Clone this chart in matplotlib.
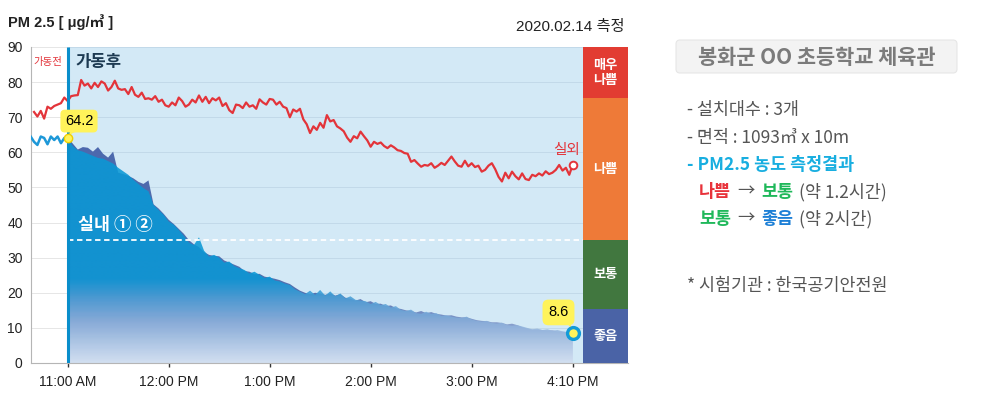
import numpy as np
import matplotlib
matplotlib.use("Agg")
import matplotlib.pyplot as plt
from matplotlib.colors import LinearSegmentedColormap
from matplotlib.patches import Polygon, FancyBboxPatch, Rectangle

KR = ["Noto Sans CJK KR", "DejaVu Sans"]
NUM = ["Liberation Sans", "Noto Sans CJK KR", "DejaVu Sans"]
plt.rcParams["font.family"] = KR

# x values are minutes after 11:00 AM (device switched on at 0)
TICK_MIN = [0, 60, 120, 180, 240, 300]
TICK_LABELS = ["11:00 AM", "12:00 PM", "1:00 PM", "2:00 PM", "3:00 PM", "4:10 PM"]
Y_TICKS = [0, 10, 20, 30, 40, 50, 60, 70, 80, 90]

# outdoor PM2.5 (실외)
outdoor_min = np.arange(-20, 301, 2)
outdoor = [
    71.5, 70.2, 71.8, 69.6, 73.0, 72.4, 73.2, 73.6, 74.0, 75.6,
    74.6, 76.0, 76.2, 76.3, 80.6, 79.0, 79.6, 78.2, 79.8, 78.6,
    80.2, 79.6, 77.6, 78.6, 80.4, 78.2, 77.8, 78.0, 76.6, 78.6,
    76.4, 75.8, 77.0, 75.2, 75.4, 75.0, 76.0, 74.4, 75.0, 73.4,
    73.0, 74.2, 73.4, 75.6, 74.6, 73.0, 73.6, 75.0, 74.2, 76.2,
    74.4, 75.8, 74.0, 75.4, 74.8, 75.6, 73.2, 74.0, 72.0, 71.2,
    73.6, 73.4, 72.6, 74.2, 73.0, 73.4, 72.4, 75.1, 74.2, 73.6,
    75.2, 75.0, 73.6, 74.4, 73.0, 72.6, 70.0, 72.2, 71.6, 72.4,
    69.4, 68.0, 65.5, 67.4, 66.4, 68.4, 67.0, 70.6, 68.8, 69.2,
    67.4, 66.8, 66.0, 64.2, 63.0, 64.6, 64.0, 65.9, 64.6, 63.4,
    61.6, 63.0, 62.4, 62.8, 61.8, 61.2, 62.0, 61.4, 60.6, 60.4,
    59.8, 59.6, 57.3, 57.8, 56.8, 55.9, 56.4, 56.2, 56.9, 55.6,
    56.2, 57.0, 56.4, 57.6, 58.8, 57.4, 56.2, 55.9, 57.6, 56.0,
    56.9, 55.8, 56.2, 54.5, 55.0, 56.2, 56.9, 55.2, 53.0, 51.7,
    54.2, 52.6, 54.5, 53.2, 52.3, 54.0, 52.4, 52.1, 53.6, 53.2,
    54.0, 53.4, 54.6, 53.8, 54.2, 55.0, 56.4, 54.8, 55.6, 53.6,
    56.4,
]

# indoor before switching on (가동전)
pre_min = np.arange(-22, 1, 2)
pre_indoor = [64.5, 63.0, 62.1, 64.5, 64.1, 62.3, 64.5, 63.5, 64.5, 62.6, 64.1, 64.2]

# indoor sensors after switching on (실내 ① ②)
indoor_min = np.arange(0, 301, 3)
indoor_1 = [
    64.2, 62.5, 60.8, 61.5, 61.3, 60.2, 61.5, 59.6, 58.5, 60.2,
    54.2, 53.8, 53.3, 52.6, 51.6, 51.0, 52.0, 45.2, 44.0, 42.5,
    40.8, 39.6, 38.2, 36.8, 35.0, 33.8, 33.0, 31.6, 30.8, 30.5,
    30.4, 29.2, 28.6, 28.0, 27.4, 26.2, 26.0, 25.3, 25.4, 24.6,
    24.3, 24.0, 23.6, 23.0, 22.5, 21.5, 20.6, 20.0, 19.6, 20.0,
    19.8, 19.4, 19.8, 19.2, 19.6, 18.6, 18.3, 17.8, 18.2, 17.3,
    17.6, 16.8, 16.9, 16.2, 16.4, 15.6, 15.4, 15.0, 14.8, 14.4,
    14.8, 14.2, 14.5, 14.0, 13.8, 13.5, 13.6, 13.2, 13.0, 13.0,
    12.6, 12.2, 12.0, 11.9, 11.6, 11.6, 11.4, 11.0, 11.2, 10.8,
    10.2, 9.8, 9.5, 9.5, 9.4, 9.3, 9.3, 9.0, 8.9, 8.8,
    8.6,
]
indoor_2 = [
    64.2, 61.8, 60.6, 60.2, 59.6, 59.0, 58.4, 58.2, 57.5, 56.8,
    55.6, 54.6, 53.6, 52.2, 51.0, 49.8, 48.9, 45.0, 43.6, 42.2,
    40.3, 39.4, 37.9, 36.2, 34.3, 33.6, 35.8, 32.0, 30.3, 30.8,
    30.0, 28.6, 28.9, 27.6, 27.0, 26.5, 25.5, 26.0, 25.1, 24.2,
    24.6, 23.5, 23.2, 22.6, 22.2, 21.0, 20.3, 19.6, 20.6, 19.4,
    20.8, 19.2, 20.4, 19.0, 19.8, 18.4, 19.0, 18.0, 17.8, 17.6,
    16.8, 17.4, 16.5, 16.8, 15.8, 16.2, 15.1, 14.8, 15.2, 14.2,
    14.0, 14.6, 14.0, 14.2, 13.4, 13.6, 13.2, 12.9, 12.8, 13.2,
    12.4, 12.0, 11.8, 12.0, 11.4, 11.2, 11.5, 10.8, 10.6, 10.8,
    10.4, 10.0, 9.6, 9.8, 9.4, 9.6, 9.2, 9.4, 9.0, 8.8,
    8.6,
]

# PM2.5 grade bands (label, low, high, colour)
GRADES = [
    ("좋음", 0, 15.5, "#4a63a6"),
    ("보통", 15.5, 35, "#41773f"),
    ("나쁨", 35, 75.5, "#ee7a38"),
    ("매우\n나쁨", 75.5, 90, "#e23c32"),
]

C_BG = "#d3e9f6"
C_RED = "#e3343a"
C_CYAN = "#0a98d5"
C_DARK = "#4b68ad"
C_YEL = "#fff35a"

X0, X_END, X_BAND = -21.8, 306.2, 332.9


def gradient_fill(ax, xs, ys, stops, alpha=1.0, z=2):
    verts = [(xs[0], 0)] + list(zip(xs, ys)) + [(xs[-1], 0)]
    patch = Polygon(verts, closed=True, fc="none", ec="none", transform=ax.transData)
    ax.add_patch(patch)
    cmap = LinearSegmentedColormap.from_list("g", stops)
    img = cmap(np.linspace(0, 1, 300)).reshape(300, 1, 4)
    im = ax.imshow(img, extent=[xs[0], xs[-1], 0, 66], origin="lower",
                   aspect="auto", interpolation="bilinear", alpha=alpha, zorder=z)
    im.set_clip_path(patch)


fig = plt.figure(figsize=(10.02, 3.96), dpi=100)
ax = fig.add_axes([31 / 1002, 33 / 396, 597 / 1002, 316 / 396])

ax.axvspan(0, X_END, color=C_BG, zorder=0, lw=0)
ax.hlines(Y_TICKS[1:], X0, 0, color="#e6e6e6", lw=0.7, zorder=1)
ax.hlines(Y_TICKS[1:], 0, X_END, color="#c2d9e9", lw=0.7, zorder=1)

gradient_fill(ax, indoor_min, indoor_1,
              [(0, "#cdd8ee"), (12 / 66, "#7f97c9"), (20 / 66, "#5570b0"), (1, C_DARK)], z=2)
gradient_fill(ax, indoor_min, indoor_2,
              [(0, "#d2e0f1"), (12 / 66, "#86acd9"), (18 / 66, "#4f9fd6"),
               (24 / 66, C_CYAN), (1, C_CYAN)], alpha=0.88, z=2.2)

ax.hlines(35, 0, X_END, color="white", lw=1.3, linestyles=(0, (3, 2)), zorder=3)
ax.plot(pre_min, pre_indoor, color="#1e98d8", lw=1.8, zorder=4)
ax.plot(outdoor_min, outdoor, color=C_RED, lw=1.6, zorder=4)
ax.vlines(0, 0, 90, color="#0a8ecb", lw=2.2, zorder=4)

for label, lo, hi, color in GRADES:
    ax.add_patch(Rectangle((X_END, lo), X_BAND - X_END, hi - lo, fc=color, ec="none", zorder=3))
    ax.text((X_END + X_BAND) / 2, (lo + hi) / 2, label, color="white", fontsize=9.5,
            fontweight="bold", ha="center", va="center", linespacing=1.1, zorder=5)

# markers and call-outs
ax.plot([0], [64.2], "o", ms=6, mfc=C_YEL, mec="#f0d000", mew=1, zorder=6)
ax.plot([300], [8.6], "o", ms=8.5, mfc=C_YEL, mec="#139bd8", mew=2.4, zorder=6)
ax.plot([300], [56.4], "o", ms=5.5, mfc="white", mec=C_RED, mew=1.4, zorder=6)
ax.add_patch(Polygon([(1.5, 66.0), (5.0, 66.0), (0.6, 64.8)], fc=C_YEL, ec="none", zorder=5))
ax.text(6.7, 68.9, "64.2", family=NUM, fontsize=10.5, ha="center", va="center", zorder=6,
        bbox=dict(boxstyle="round,pad=0.3", fc=C_YEL, ec="none"))
ax.add_patch(Polygon([(294.5, 12.5), (298.0, 12.5), (299.4, 9.8)], fc=C_YEL, ec="none", zorder=5))
ax.text(291.6, 14.4, "8.6", family=NUM, fontsize=10.5, ha="center", va="center", zorder=6,
        bbox=dict(boxstyle="round,pad=0.4", fc=C_YEL, ec="none"))

ax.text(-11.9, 85.8, "가동전", color=C_RED, fontsize=7.5, ha="center", va="center", zorder=5)
ax.text(4.8, 85.8, "가동후", color="#1d3a52", fontsize=12, fontweight="bold",
        ha="left", va="center", zorder=5)
ax.text(6.0, 39.3, "실내 ① ②", color="white", fontsize=12.5, fontweight="bold",
        ha="left", va="center", zorder=5)
ax.text(296.5, 60.6, "실외", color=C_RED, fontsize=10.5, ha="center", va="center", zorder=5)

ax.set_xlim(X0, X_BAND)
ax.set_ylim(0, 90)
ax.set_xticks(TICK_MIN)
ax.set_xticklabels(TICK_LABELS, family=NUM, fontsize=10, color="#222")
ax.set_yticks(Y_TICKS)
ax.set_yticklabels([str(v) for v in Y_TICKS], family=NUM, fontsize=10, color="#222")
ax.tick_params(axis="x", length=3, width=1, color="#333", pad=6)
ax.tick_params(axis="y", length=0, pad=6)
for s in ("top", "right"):
    ax.spines[s].set_visible(False)
ax.spines["left"].set_color("#b5b5b5")
ax.spines["bottom"].set_color("#b5b5b5")

# text overlay in pixel coordinates
ov = fig.add_axes([0, 0, 1, 1])
ov.set_xlim(0, 1002)
ov.set_ylim(396, 0)
ov.axis("off")

ov.text(8, 22, "PM 2.5 [ μg/㎥ ]", family=NUM, fontsize=10.5, fontweight="bold", color="#222",
        ha="left", va="center")
ov.text(625, 27, "2020.02.14 측정", family=NUM, fontsize=11, color="#222", ha="right", va="center")

ov.add_patch(FancyBboxPatch((676, 40), 281, 33, boxstyle="round,pad=0,rounding_size=4",
                            fc="#f3f3f3", ec="#e6e6e6", lw=0.8))
ov.text(817, 57, "봉화군 OO 초등학교 체육관", fontsize=15, fontweight="bold",
        color="#7b7b7b", ha="center", va="center")

GREY = "#555555"
FS = 12.5
ov.text(687, 110, "- 설치대수 : 3개", fontsize=FS, color=GREY, va="center")
ov.text(687, 138, "- 면적 : 1093㎥ x 10m", fontsize=FS, color=GREY, va="center")
ov.text(687, 165, "- PM2.5 농도 측정결과", fontsize=FS, fontweight="bold", color="#18aee0", va="center")
for y, parts in ((192, [("나쁨", "#e8333b"), ("→", GREY), ("보통", "#1fb85a"), ("(약 1.2시간)", GREY)]),
                 (219, [("보통", "#1fb85a"), ("→", GREY), ("좋음", "#1c7fd6"), ("(약 2시간)", GREY)])):
    for x, (txt, col) in zip((699, 737, 761, 799), parts):
        ov.text(x, y, txt, fontsize=FS, color=col, va="center",
                fontweight="bold" if col != GREY else "normal")
ov.text(687, 286, "* 시험기관 : 한국공기안전원", fontsize=FS, color=GREY, va="center")

fig.savefig("out.png", dpi=100)
